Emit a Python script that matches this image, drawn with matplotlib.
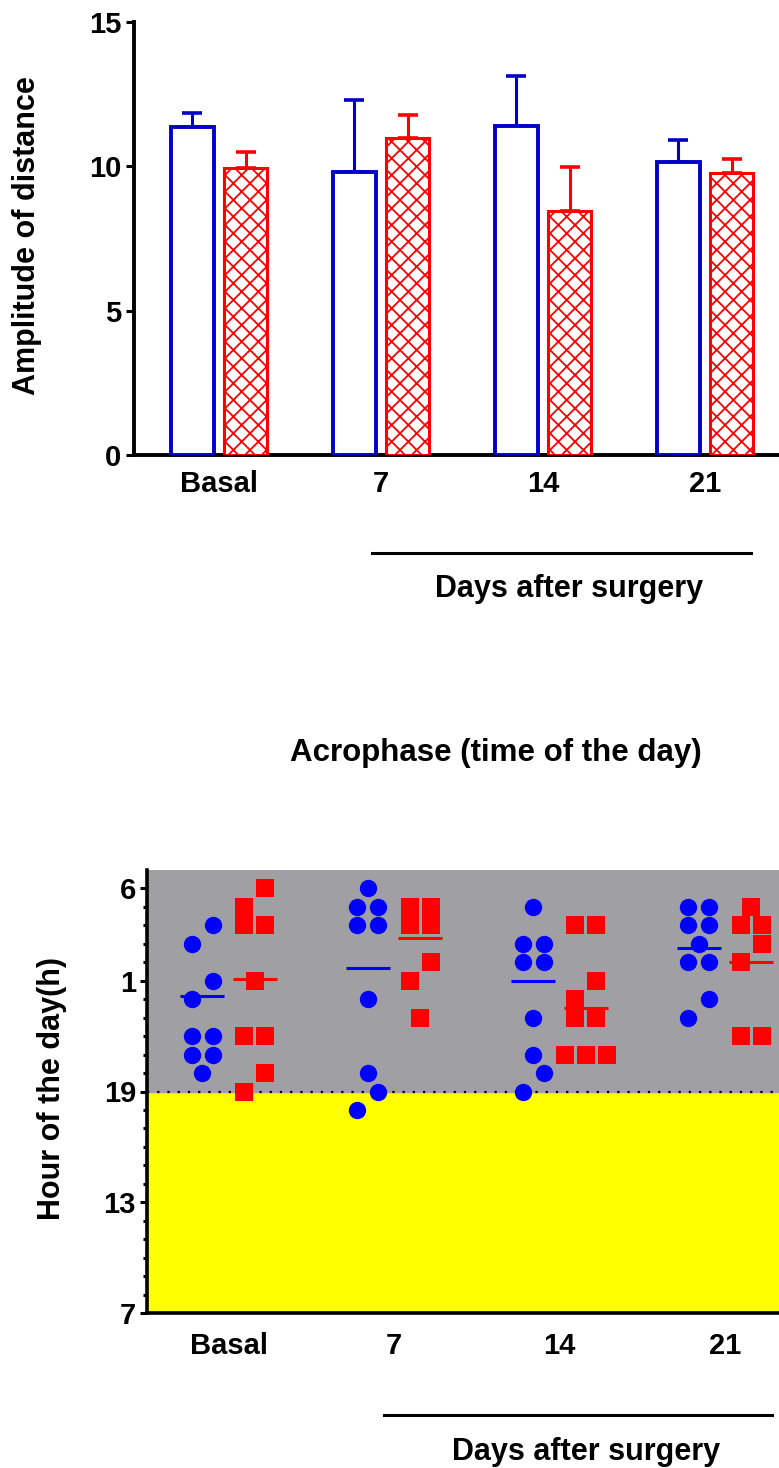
import matplotlib
matplotlib.use("Agg")
import matplotlib.pyplot as plt
import numpy as np
from matplotlib.lines import Line2D
from matplotlib.ticker import FixedLocator

W, H = 779, 1468
DPI = 100

plt.rcParams['font.family'] = ['Liberation Sans', 'DejaVu Sans']
plt.rcParams['font.weight'] = 'bold'
plt.rcParams['hatch.linewidth'] = 1.3

groups = ["Basal", "7", "14", "21"]

# amplitude of distance: mean and SD (only the upper bar is drawn)
amp_blue = [11.35, 9.82, 11.38, 10.15]
amp_blue_sd = [0.50, 2.49, 1.74, 0.75]
amp_red = [9.94, 10.98, 8.46, 9.78]
amp_red_sd = [0.55, 0.81, 1.53, 0.47]

# acrophase per animal, in hours on a continuous 7..31 scale (25 = 1 h, 30 = 6 h)
acro_blue = [
    [28, 27, 25, 24, 22, 22, 21, 21, 20],
    [30, 29, 29, 28, 28, 24, 20, 19, 18],
    [29, 27, 27, 26, 26, 23, 21, 20, 19],
    [29, 29, 28, 28, 27, 26, 26, 24, 23],
]
acro_red = [
    [30, 29, 28, 28, 25, 22, 22, 20, 19],
    [29, 29, 28, 28, 26, 25, 23],
    [28, 28, 25, 24, 23, 23, 21, 21, 21],
    [29, 28, 28, 27, 26, 22, 22],
]
acro_blue_mean = [24.2, 25.7, 25.0, 26.8]
acro_red_mean = [25.1, 27.3, 23.5, 26.0]

hour_ticks = [7, 13, 19, 25, 30]
hour_labels = ["7", "13", "19", "1", "6"]
lights_off = 19

BLUE_BAR = "#0000c8"
BLUE = "#0000ff"
RED = "#ff0000"
GREY = "#a09fa4"
YELLOW = "#ffff00"


def px(x, y):
    """pixel position -> figure fraction"""
    return x / W, 1 - y / H


def axes_box(left, top, right, bottom):
    return [left / W, 1 - bottom / H, (right - left) / W, (bottom - top) / H]


def swarm(values, step):
    """Put tied values side by side, pair up neighbouring single points."""
    rows = []
    for v in sorted(values):
        if rows and rows[-1][0] == v:
            rows[-1].append(v)
        else:
            rows.append([v])
    merged = []
    for row in rows:
        if (merged and len(row) == 1 and len(merged[-1]) == 1
                and row[0] - merged[-1][0] <= 1):
            merged[-1].append(row[0])
        else:
            merged.append(row)
    xs, ys = [], []
    for row in merged:
        n = len(row)
        for k, v in enumerate(row):
            xs.append((k - (n - 1) / 2) * step)
            ys.append(v)
    return np.array(xs), np.array(ys)


fig = plt.figure(figsize=(W / DPI, H / DPI), dpi=DPI)
FS = 22
TFS = 21

# ---- amplitude bars ----
ax1 = fig.add_axes(axes_box(134, 22, 800, 455))
x = np.arange(len(groups))
off, bw = 0.165, 0.268
ax1.bar(x - off, amp_blue, bw, facecolor="white", edgecolor=BLUE_BAR,
        linewidth=2.8, zorder=3)
ax1.bar(x + off, amp_red, bw, facecolor="white", edgecolor=RED,
        linewidth=2.2, hatch="xx", zorder=3)
ax1.errorbar(x - off, amp_blue, yerr=[np.zeros(4), amp_blue_sd], fmt="none",
             ecolor=BLUE_BAR, elinewidth=2.2, capsize=7.5, capthick=2.6, zorder=2)
ax1.errorbar(x + off, amp_red, yerr=[np.zeros(4), amp_red_sd], fmt="none",
             ecolor=RED, elinewidth=2.2, capsize=7.5, capthick=2.6, zorder=2)
ax1.set_xlim((134 - 219) / 162, (800 - 219) / 162)
ax1.set_ylim(0, 15)
ax1.set_yticks([0, 5, 10, 15])
ax1.set_xticks(x)
ax1.set_xticklabels(groups)
ax1.tick_params(axis="y", length=6, width=2.2, pad=3, labelsize=TFS)
ax1.tick_params(axis="x", length=0, pad=11, labelsize=TFS)
for s in ("top", "right"):
    ax1.spines[s].set_visible(False)
for s in ("left", "bottom"):
    ax1.spines[s].set_linewidth(2.8)
fig.text(*px(27, 236), "Amplitude of distance", rotation=90, fontsize=FS,
         ha="center", va="center")

fig.add_artist(Line2D([372 / W, 751 / W], [1 - 553 / H] * 2, color="black",
                      linewidth=2.2, transform=fig.transFigure))
fig.text(*px(569, 589), "Days after surgery", fontsize=FS, ha="center", va="center")

# ---- acrophase scatter ----
fig.text(*px(496, 753), "Acrophase (time of the day)", fontsize=22.5,
         ha="center", va="center")

ax2 = fig.add_axes(axes_box(147, 870, 800, 1313))
ax2.set_xlim((147 - 228.5) / 165.5, (800 - 228.5) / 165.5)
ax2.set_ylim(7, 31)
ax2.axhspan(7, lights_off, color=YELLOW, zorder=0)
ax2.axhspan(lights_off, 31, color=GREY, zorder=0)
ax2.axhline(lights_off, color="black", linewidth=1.6,
            linestyle=(0, (1, 3.6)), zorder=1)

shift, step, half = 0.16, 0.127, 0.133
for i in range(len(groups)):
    bx, by = swarm(acro_blue[i], step)
    ax2.plot(i - shift + bx, by, "o", color=BLUE, markersize=12.5,
             markeredgewidth=0, zorder=3)
    ax2.hlines(acro_blue_mean[i], i - shift - half, i - shift + half,
               color=BLUE, linewidth=2.2, zorder=4)
    rx, ry = swarm(acro_red[i], step)
    ax2.plot(i + shift + rx, ry, "s", color=RED, markersize=12.5,
             markeredgewidth=0, zorder=3)
    ax2.hlines(acro_red_mean[i], i + shift - half, i + shift + half,
               color=RED, linewidth=2.2, zorder=4)

ax2.set_yticks(hour_ticks)
ax2.set_yticklabels(hour_labels)
ax2.yaxis.set_minor_locator(FixedLocator([h for h in range(8, 30)
                                          if h not in hour_ticks]))
ax2.set_xticks(range(len(groups)))
ax2.set_xticklabels(groups)
ax2.tick_params(axis="y", which="major", length=5, width=2.2, pad=3, labelsize=TFS)
ax2.tick_params(axis="y", which="minor", length=3, width=2.2)
ax2.tick_params(axis="x", length=0, pad=14, labelsize=TFS)
for s in ("top", "right"):
    ax2.spines[s].set_visible(False)
for s in ("left", "bottom"):
    ax2.spines[s].set_linewidth(2.6)
fig.text(*px(52, 1088), "Hour of the day(h)", rotation=90, fontsize=FS,
         ha="center", va="center")

fig.add_artist(Line2D([384 / W, 772 / W], [1 - 1415 / H] * 2, color="black",
                      linewidth=2.2, transform=fig.transFigure))
fig.text(*px(586, 1452), "Days after surgery", fontsize=FS, ha="center", va="center")

fig.savefig("out.png", dpi=DPI)
